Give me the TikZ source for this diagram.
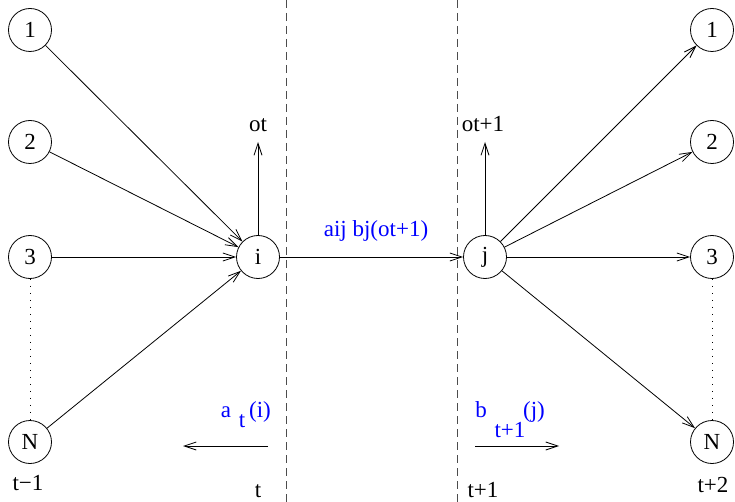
\documentclass[tikz,border=0pt]{standalone}
\usepackage{fontspec}
\setmainfont{Liberation Serif}
\usetikzlibrary{arrows.meta}
\begin{document}
\begin{tikzpicture}[x=1pt,y=-1pt,
  state/.style={circle,draw,line width=0.8pt,minimum size=43pt,inner sep=0pt,font=\fontsize{23}{27}\selectfont},
  conn/.style={line width=0.8pt,-{Straight Barb[length=12pt,width=8pt,line width=0.8pt]}},
  lbl/.style={anchor=base,inner sep=0pt,font=\fontsize{23}{27}\selectfont},
  blbl/.style={lbl,text=blue},
  sub/.style={anchor=base,inner sep=0pt,font=\fontsize{23}{27}\selectfont,text=blue},
  sep/.style={line width=0.8pt,draw=black!70,dash pattern=on 8pt off 5pt},
  dots/.style={line width=1pt,dash pattern=on 1pt off 6pt}]
\useasboundingbox (0,0) rectangle (735,502);
% separators
\coordinate (s1t) at (286,0); \coordinate (s1b) at (286,502);
\coordinate (s2t) at (457,0); \coordinate (s2b) at (457,502);
\draw[sep] (s1t) -- (s1b);
\draw[sep] (s2t) -- (s2b);
% left column
\node[state] (l1) at (30,30) {1};
\node[state] (l2) at (30,142) {2};
\node[state] (l3) at (30,257) {3};
\node[state] (lN) at (30,442) {N};
% centre
\node[state] (i) at (258,257) {i};
\node[state] (j) at (485,257) {j};
% right column
\node[state] (r1) at (712,30) {1};
\node[state] (r2) at (712,142) {2};
\node[state] (r3) at (712,257) {3};
\node[state] (rN) at (712,442) {N};
% dotted
\draw[dots] (l3) -- (lN);
\draw[dots] (r3) -- (rN);
% edges
\foreach \n in {l1,l2,l3,lN} \draw[conn] (\n) -- (i);
\foreach \n in {r1,r2,r3,rN} \draw[conn] (j) -- (\n);
\draw[conn] (i) -- (j);
% outputs
\coordinate (ot) at (258,142);
\coordinate (ot1) at (485,142);
\draw[conn] (i.north) -- (ot);
\draw[conn] (j.north) -- (ot1);
\node[lbl] (otl) at (258,132) {ot};
\node[lbl] (ot1l) at (483,132) {ot+1};
\node[blbl] (aij) at (376,237) {aij bj(ot+1)};
% alpha / beta
\coordinate (aS) at (268,446); \coordinate (aE) at (183,446);
\draw[conn] (aS) -- (aE);
\coordinate (bS) at (475,446); \coordinate (bE) at (559,446);
\draw[conn] (bS) -- (bE);
\node[sub] (a) at (226,417) {a};
\node[sub] (at) at (242,427) {t};
\node[sub] (ai) at (260,417) {(i)};
\node[sub] (b) at (481,417) {b};
\node[sub] (bt) at (510,437) {t+1};
\node[sub] (bj) at (534,417) {(j)};
% time labels
\node[lbl] (tm1) at (28,490) {t−1};
\node[lbl] (t0) at (258,497) {t};
\node[lbl] (tp1) at (483,497) {t+1};
\node[lbl] (tp2) at (713,492) {t+2};
\end{tikzpicture}
\end{document}
